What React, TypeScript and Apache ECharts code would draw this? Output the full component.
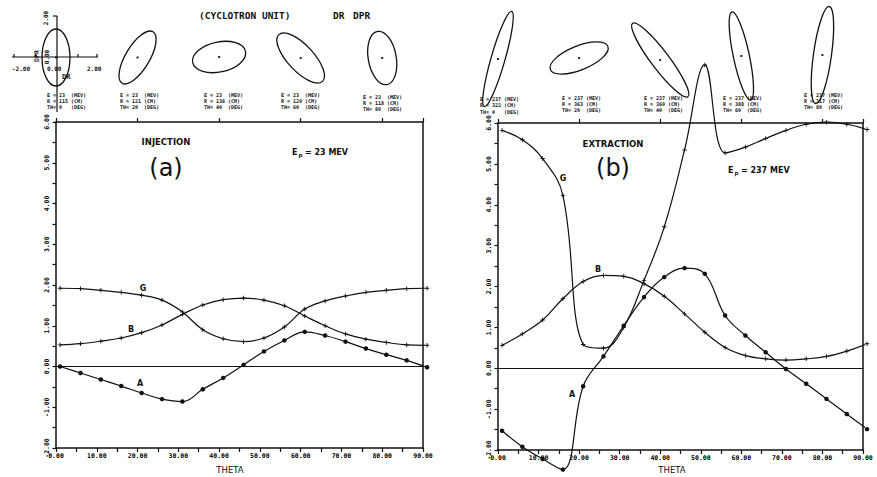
import React, { useEffect, useRef } from "react";
import * as echarts from "echarts";

// ---------------- data ----------------
const theta = [1, 6, 11, 16, 21, 26, 31, 36, 41, 46, 51, 56, 61, 66, 71, 76, 81, 86, 91];

// (a) injection, Ep = 23 MeV
const injA = [0, -0.16, -0.32, -0.48, -0.65, -0.8, -0.86, -0.56, -0.28, 0.04, 0.37, 0.64, 0.85, 0.76, 0.61, 0.44, 0.29, 0.15, -0.02];
const injB = [0.53, 0.56, 0.62, 0.7, 0.83, 1.02, 1.28, 1.51, 1.64, 1.68, 1.63, 1.49, 1.24, 1.0, 0.8, 0.67, 0.59, 0.53, 0.52];
const injG = [1.92, 1.91, 1.87, 1.82, 1.75, 1.63, 1.34, 0.9, 0.68, 0.61, 0.7, 0.97, 1.41, 1.61, 1.73, 1.82, 1.87, 1.91, 1.92];

// (b) extraction, Ep = 237 MeV
const extA = [-1.53, -1.92, -2.22, -2.48, -0.44, 0.29, 1.04, 1.74, 2.23, 2.45, 2.31, 1.29, 0.8, 0.39, -0.02, -0.38, -0.75, -1.12, -1.49];
const extB = [0.56, 0.84, 1.18, 1.7, 2.12, 2.27, 2.25, 2.07, 1.76, 1.33, 0.88, 0.51, 0.31, 0.23, 0.2, 0.23, 0.29, 0.42, 0.6];
const extG = [5.82, 5.59, 5.13, 4.23, 0.58, 0.49, 1.0, 2.15, 3.46, 5.34, 7.42, 5.27, 5.41, 5.62, 5.82, 5.97, 6.02, 5.97, 5.84];

// ellipse captions
const ellipseTheta = [0, 20, 40, 60, 80];
const injE = 23;
const injR = [115, 121, 136, 129, 118];
const extE = 237;
const extR = [322, 363, 360, 388, 317];

// ---------------- layout / style ----------------
const INK = "#111111";
const SANS = '"DejaVu Sans", sans-serif';
const MONO = '"DejaVu Sans Mono", monospace';
const PANEL_A = { left: 56, top: 122, width: 367, height: 326 };
const PANEL_B = { left: 498, top: 123, width: 365, height: 327 };

// ellipse geometry (pixels): semi-axes, rotation (deg, ccw), centre y
const injShapes = [
  { rx: 14, ry: 28.5, rot: 0, cy: 57.5 },
  { rx: 12, ry: 30, rot: -31, cy: 57.5 },
  { rx: 27, ry: 15, rot: 12, cy: 57 },
  { rx: 13, ry: 32, rot: 43, cy: 58 },
  { rx: 14, ry: 27, rot: 10, cy: 58 },
];
const extShapes = [
  { rx: 7, ry: 49.5, rot: -16, cy: 59 },
  { rx: 31, ry: 12, rot: 22, cy: 58 },
  { rx: 9, ry: 46, rot: 37, cy: 60 },
  { rx: 8, ry: 45, rot: 12, cy: 56 },
  { rx: 9, ry: 49, rot: -8, cy: 55 },
];
const injLabelPos = [
  { x: 47, y: 94.5 }, { x: 120, y: 94.5 }, { x: 204, y: 94.5 }, { x: 281, y: 94.5 }, { x: 363, y: 96.5 },
];
const extLabelPos = [
  { x: 480, y: 99 }, { x: 562, y: 97.5 }, { x: 644, y: 97.5 }, { x: 723, y: 97.5 }, { x: 804, y: 94.5 },
];

const PLUS = "path://M4,0H6V4H10V6H6V10H4V6H0V4H4Z";

function txt(x: number, y: number, text: string, size: number, o: any = {}) {
  const align = o.align || "left";
  const v = o.v || "middle";
  return {
    type: "text",
    x,
    y,
    rotation: o.rot ? (o.rot * Math.PI) / 180 : 0,
    z: 20,
    style: {
      text,
      font: `${o.weight || "bold"} ${size}px ${o.family || SANS}`,
      fill: INK,
      textAlign: align,
      textVerticalAlign: v,
      align,
      verticalAlign: v,
    },
  };
}

function line(x1: number, y1: number, x2: number, y2: number, w = 1.2) {
  return { type: "line", z: 20, shape: { x1, y1, x2, y2 }, style: { stroke: INK, lineWidth: w } };
}

function ellipses(panel: any, shapes: any[], labels: any[], E: number, R: number[]) {
  const out: any[] = [];
  ellipseTheta.forEach((th, i) => {
    const s = shapes[i];
    const cx = panel.left + (th / 90) * panel.width;
    out.push({
      type: "ellipse",
      x: cx,
      y: s.cy,
      rotation: (s.rot * Math.PI) / 180,
      z: 20,
      shape: { cx: 0, cy: 0, rx: s.rx, ry: s.ry },
      style: { fill: "none", stroke: INK, lineWidth: 1.3 },
    });
    out.push({ type: "circle", z: 20, shape: { cx, cy: s.cy, r: 1.1 }, style: { fill: INK } });
    const p = labels[i];
    const pad = (v: string, n: number) => (v + "    ").slice(0, n);
    out.push(txt(p.x, p.y, `E = ${pad(String(E), 4)}(MEV)`, 5, { family: MONO }));
    out.push(txt(p.x, p.y + 6.3, `R = ${pad(String(R[i]), 4)}(CM)`, 5, { family: MONO }));
    out.push(txt(p.x, p.y + 12.6, `TH= ${pad(String(th), 4)}(DEG)`, 5, { family: MONO }));
  });
  return out;
}

function bottomX(gridIndex: number) {
  return {
    type: "value",
    gridIndex,
    min: 0,
    max: 90,
    interval: 5,
    position: "bottom",
    axisLine: { show: true, onZero: false, lineStyle: { color: INK, width: 1.5 } },
    axisTick: { show: true, length: 4, lineStyle: { color: INK, width: 1.2 } },
    axisLabel: {
      formatter: (v: number) => (v % 10 === 0 ? v.toFixed(2) : ""),
      fontSize: 6.5,
      fontFamily: MONO,
      fontWeight: "bold",
      color: "#000000",
      margin: 4,
    },
    splitLine: { show: false },
  };
}
function topX(gridIndex: number) {
  return {
    type: "value",
    gridIndex,
    min: 0,
    max: 90,
    interval: 20,
    position: "top",
    axisLine: { show: true, onZero: false, lineStyle: { color: INK, width: 1.5 } },
    axisTick: { show: true, length: 4, lineStyle: { color: INK, width: 1.2 } },
    axisLabel: { show: false },
    splitLine: { show: false },
  };
}
function leftY(gridIndex: number) {
  return {
    type: "value",
    gridIndex,
    min: -2,
    max: 6,
    interval: 0.5,
    position: "left",
    axisLine: { show: true, onZero: false, lineStyle: { color: INK, width: 1.5 } },
    axisTick: { show: true, length: 3.5, lineStyle: { color: INK, width: 1.2 } },
    axisLabel: {
      formatter: (v: number) => (v % 1 === 0 ? v.toFixed(2) : ""),
      rotate: 90,
      fontSize: 6.5,
      fontFamily: MONO,
      fontWeight: "bold",
      color: "#000000",
      margin: 6,
    },
    splitLine: { show: false },
  };
}
function rightY(gridIndex: number) {
  return {
    type: "value",
    gridIndex,
    min: -2,
    max: 6,
    position: "right",
    axisLine: { show: true, onZero: false, lineStyle: { color: INK, width: 1.5 } },
    axisTick: { show: false },
    axisLabel: { show: false },
    splitLine: { show: false },
  };
}

function mk(name: string, axis: number, ys: number[], symbol: string, size: number, zeroLine = false) {
  const s: any = {
    name,
    type: "line",
    xAxisIndex: axis,
    yAxisIndex: axis,
    data: theta.map((t, i) => [t, ys[i]]),
    smooth: 0.4,
    clip: false,
    symbol,
    symbolSize: size,
    showSymbol: true,
    itemStyle: { color: INK },
    lineStyle: { color: INK, width: 1.2 },
    z: 3,
  };
  if (zeroLine) {
    s.markLine = {
      silent: true,
      symbol: "none",
      label: { show: false },
      lineStyle: { color: INK, width: 1.2, type: "solid" },
      data: [{ yAxis: 0 }],
    };
  }
  return s;
}

function buildOption() {
  const grid = [PANEL_A, PANEL_B].map((p) => ({
    left: p.left,
    top: p.top,
    width: p.width,
    height: p.height,
    containLabel: false,
    outerBoundsMode: "none",
  }));
  const xAxis = [bottomX(0), topX(0), bottomX(1), topX(1)];
  const yAxis = [leftY(0), rightY(0), leftY(1), rightY(1)];
  const series = [
    mk("A", 0, injA, "circle", 4.5, true),
    mk("B", 0, injB, PLUS, 4.5),
    mk("G", 0, injG, PLUS, 4.5),
    mk("A", 2, extA, "circle", 4.5, true),
    mk("B", 2, extB, PLUS, 4.5),
    mk("G", 2, extG, PLUS, 4.5),
  ];

  const graphic: any[] = [
    // title
    txt(199, 15, "(CYCLOTRON UNIT)", 9.5, { family: MONO }),
    txt(333, 15, "DR", 9.5, { family: MONO }),
    txt(353, 15, "DPR", 9.5, { family: MONO }),
    // mini axes
    line(12, 57, 98, 57),
    line(57, 16, 57, 112),
    line(14, 57, 14, 54),
    line(35.5, 57, 35.5, 54),
    line(78, 57, 78, 54),
    line(97, 57, 97, 54),
    line(53, 16, 57, 16),
    txt(12, 68, "-2.00", 6, { family: MONO }),
    txt(47, 68, "0.00", 6, { family: MONO }),
    txt(87, 68, "2.00", 6, { family: MONO }),
    txt(45, 18, "2.00", 6, { family: MONO, rot: 90, align: "center" }),
    txt(37, 56, "DPR", 6.5, { family: MONO, rot: 90, align: "center" }),
    txt(46, 57, "0.00", 6, { family: MONO, rot: 90, align: "center" }),
    txt(62, 77, "DR", 7, { family: MONO }),
    // panel (a)
    txt(166, 142, "INJECTION", 8.5, { align: "center" }),
    txt(166, 168, "(a)", 24, { align: "center", weight: "normal" }),
    txt(292, 152, "E", 8),
    txt(298.5, 155, "p", 5.5),
    txt(305, 152, "= 23 MEV", 8),
    txt(143, 288, "G", 8, { align: "center" }),
    txt(131, 329, "B", 8, { align: "center" }),
    txt(140, 383, "A", 8, { align: "center" }),
    txt(230, 469.5, "THETA", 8.5, { align: "center", weight: "normal" }),
    // panel (b)
    txt(613, 144, "EXTRACTION", 8.5, { align: "center" }),
    txt(613, 168, "(b)", 24, { align: "center", weight: "normal" }),
    txt(728, 170, "E", 8),
    txt(734.5, 173, "p", 5.5),
    txt(741, 170, "= 237 MEV", 8),
    txt(563, 178, "G", 8, { align: "center" }),
    txt(598, 269, "B", 8, { align: "center" }),
    txt(572, 394, "A", 8, { align: "center" }),
    txt(672, 469.5, "THETA", 8.5, { align: "center", weight: "normal" }),
    ...ellipses(PANEL_A, injShapes, injLabelPos, injE, injR),
    ...ellipses(PANEL_B, extShapes, extLabelPos, extE, extR),
  ];

  return {
    animation: false,
    backgroundColor: "#ffffff",
    grid,
    xAxis,
    yAxis,
    series,
    graphic,
  };
}

export default function App() {
  const ref = useRef<HTMLDivElement>(null);
  useEffect(() => {
    if (!ref.current) return;
    const chart = echarts.init(ref.current, null, { renderer: "svg" });
    chart.setOption(buildOption() as any);
    return () => chart.dispose();
  }, []);
  return (
    <div
      ref={ref}
      style={{ position: "fixed", left: 0, top: 0, width: 877, height: 477, background: "#fff" }}
    />
  );
}
